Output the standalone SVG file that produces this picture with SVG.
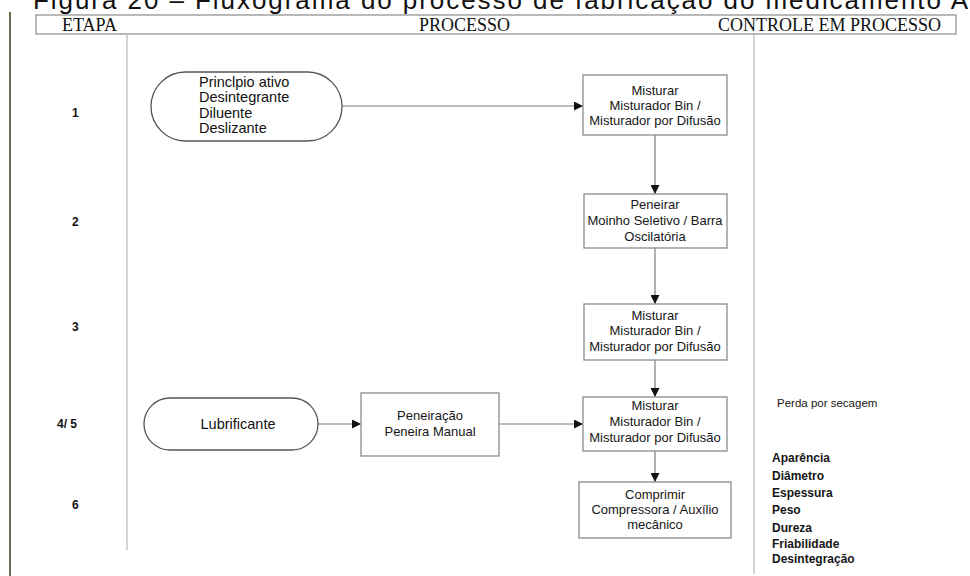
<svg xmlns="http://www.w3.org/2000/svg" width="970" height="576" viewBox="0 0 970 576">
  <defs>
    <marker id="arrow" viewBox="0 0 10 10" refX="10" refY="5" markerWidth="9" markerHeight="9" markerUnits="userSpaceOnUse" orient="auto">
      <path d="M0,0 L10,5 L0,10 Z" fill="#111"/>
    </marker>
    <style>
      .title { font-family: "Liberation Sans", Arial, sans-serif; font-size: 26px; fill: #111; }
      .head { font-family: "Liberation Serif", "Times New Roman", serif; font-size: 18px; fill: #111; }
      .frame { fill: none; stroke: #8a8a8a; stroke-width: 1.2; }
      .col { fill: none; stroke: #c4c4cc; stroke-width: 1.5; }
      .box { fill: #fff; stroke: #8c8c8c; stroke-width: 1.3; }
      .term { fill: #fff; stroke: #555; stroke-width: 1.3; }
      .lbl { font-family: "Liberation Sans", Arial, sans-serif; font-size: 13px; fill: #161616; text-anchor: middle; }
      .tlbl { font-family: "Liberation Sans", Arial, sans-serif; font-size: 14.5px; fill: #111; }
      .stage { font-family: "Liberation Sans", Arial, sans-serif; font-size: 12px; font-weight: bold; fill: #111; }
      .ctl { font-family: "Liberation Sans", Arial, sans-serif; font-size: 12px; font-weight: bold; fill: #161616; }
      .ctl2 { font-family: "Liberation Sans", Arial, sans-serif; font-size: 11.5px; fill: #161616; }
      .conn { fill: none; stroke: #7a7a7a; stroke-width: 1.2; marker-end: url(#arrow); }
    </style>
  </defs>

  <rect width="970" height="576" fill="#fff"/>

  <!-- caption, cut by the top edge -->
  <text class="title" x="33" y="9" textLength="935" lengthAdjust="spacing">Figura 20 – Fluxograma do processo de fabricação do medicamento A</text>

  <!-- page margin line -->
  <line x1="10" y1="12" x2="10" y2="576" stroke="#6b6b4e" stroke-width="2"/>

  <!-- column header -->
  <g id="header">
    <rect class="frame" x="36" y="15" width="920" height="19"/>
    <text class="head" x="62" y="31">ETAPA</text>
    <text class="head" x="419" y="31">PROCESSO</text>
    <text class="head" x="718" y="31">CONTROLE EM PROCESSO</text>
  </g>

  <!-- column separators -->
  <line class="col" x1="127" y1="34" x2="127" y2="550"/>
  <line class="col" x1="754" y1="34" x2="754" y2="574"/>

  <!-- stage numbers -->
  <g id="stages">
    <text class="stage" x="72" y="117">1</text>
    <text class="stage" x="72" y="226">2</text>
    <text class="stage" x="72" y="331">3</text>
    <text class="stage" x="57" y="428">4/ 5</text>
    <text class="stage" x="72" y="509">6</text>
  </g>

  <!-- connectors -->
  <g id="connectors">
    <line class="conn" x1="342" y1="106" x2="583" y2="106"/>
    <line class="conn" x1="655" y1="135" x2="655" y2="194"/>
    <line class="conn" x1="655" y1="248" x2="655" y2="304"/>
    <line class="conn" x1="655" y1="360" x2="655" y2="397"/>
    <line class="conn" x1="318" y1="424" x2="361" y2="424"/>
    <line class="conn" x1="499" y1="424" x2="583" y2="424"/>
    <line class="conn" x1="655" y1="451" x2="655" y2="482"/>
  </g>

  <!-- inputs -->
  <g id="materiais">
    <rect class="term" x="151" y="72" width="191" height="69" rx="34.5" ry="34.5"/>
    <text class="tlbl" x="199" y="87">Princlpio ativo</text>
    <text class="tlbl" x="199" y="102">Desintegrante</text>
    <text class="tlbl" x="199" y="118">Diluente</text>
    <text class="tlbl" x="199" y="133">Deslizante</text>
  </g>

  <g id="lubrificante">
    <rect class="term" x="144" y="398" width="174" height="52" rx="26" ry="26"/>
    <text class="tlbl" x="238" y="429" text-anchor="middle" font-size="15">Lubrificante</text>
  </g>

  <!-- process steps -->
  <g id="misturar1">
    <rect class="box" x="583" y="75" width="144" height="60"/>
    <text class="lbl" x="655" y="95">Misturar</text>
    <text class="lbl" x="655" y="110">Misturador Bin /</text>
    <text class="lbl" x="655" y="125">Misturador por Difusão</text>
  </g>

  <g id="peneirar">
    <rect class="box" x="584" y="194" width="143" height="54"/>
    <text class="lbl" x="655" y="209">Peneirar</text>
    <text class="lbl" x="655" y="225">Moinho Seletivo / Barra</text>
    <text class="lbl" x="655" y="241">Oscilatória</text>
  </g>

  <g id="misturar2">
    <rect class="box" x="584" y="304" width="143" height="56"/>
    <text class="lbl" x="655" y="320">Misturar</text>
    <text class="lbl" x="655" y="335">Misturador Bin /</text>
    <text class="lbl" x="655" y="351">Misturador por Difusão</text>
  </g>

  <g id="peneiracao">
    <rect class="box" x="361" y="393" width="138" height="63"/>
    <text class="lbl" x="430" y="420">Peneiração</text>
    <text class="lbl" x="430" y="436">Peneira Manual</text>
  </g>

  <g id="misturar3">
    <rect class="box" x="583" y="397" width="144" height="54"/>
    <text class="lbl" x="655" y="410">Misturar</text>
    <text class="lbl" x="655" y="426">Misturador Bin /</text>
    <text class="lbl" x="655" y="442">Misturador por Difusão</text>
  </g>

  <g id="comprimir">
    <rect class="box" x="579" y="482" width="152" height="56"/>
    <text class="lbl" x="655" y="499">Comprimir</text>
    <text class="lbl" x="655" y="514">Compressora / Auxílio</text>
    <text class="lbl" x="655" y="529">mecânico</text>
  </g>

  <!-- in-process controls -->
  <g id="controles">
    <text class="ctl2" x="777" y="407">Perda por secagem</text>
    <text class="ctl" x="772" y="462">Aparência</text>
    <text class="ctl" x="772" y="480">Diâmetro</text>
    <text class="ctl" x="772" y="497">Espessura</text>
    <text class="ctl" x="772" y="514">Peso</text>
    <text class="ctl" x="772" y="532">Dureza</text>
    <text class="ctl" x="772" y="548">Friabilidade</text>
    <text class="ctl" x="772" y="563">Desintegração</text>
  </g>
</svg>
